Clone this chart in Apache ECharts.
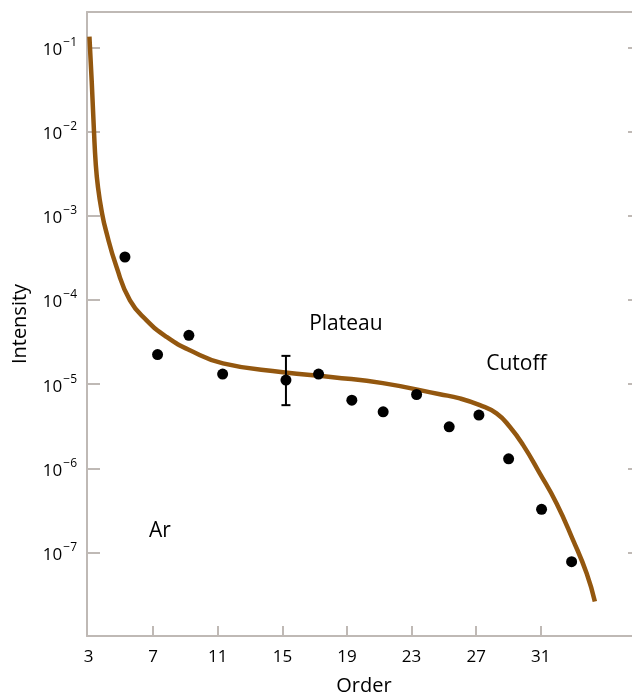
<!DOCTYPE html>
<html>
<head>
<meta charset="utf-8">
<script src="https://cdn.jsdelivr.net/npm/echarts@6/dist/echarts.min.js"></script>
<style>
  html, body { margin: 0; padding: 0; background: #fff; }
  #chart { width: 632px; height: 696px; }
</style>
</head>
<body>
<div id="chart"></div>
<script>
// measured harmonic orders and intensities (dots)
var orders = [5.25, 7.27, 9.21, 11.3, 15.22, 17.24, 19.3, 21.24, 23.31, 25.33, 27.17, 29.01, 31.05, 32.91];
var intensities = [3.24e-4, 2.25e-5, 3.81e-5, 1.32e-5, 1.12e-5, 1.32e-5, 6.46e-6, 4.70e-6, 7.55e-6, 3.12e-6, 4.30e-6, 1.30e-6, 3.27e-7, 7.80e-8];

// error bar on the order-15 point
var errOrder = 15.22;
var errLow = 5.64e-6;
var errHigh = 2.17e-5;

// model curve (brown line)
var curveX = [3.05, 3.19, 3.33, 3.44, 3.58, 3.8, 4.07, 4.73, 5.56, 6.59, 7.83, 9.27, 11.32, 15.03, 18.13, 21.22, 24.75, 25.99, 27.23, 28.26, 29.08, 29.91, 30.94, 31.98, 33.0, 33.84, 34.35];
var curveY = [0.134, 0.0403, 0.0103, 4.18e-3, 2.19e-3, 1.16e-3, 6.70e-4, 2.46e-4, 9.91e-5, 5.74e-5, 3.64e-5, 2.53e-5, 1.77e-5, 1.39e-5, 1.21e-5, 1.03e-5, 7.60e-6, 6.78e-6, 5.64e-6, 4.50e-6, 3.12e-6, 1.89e-6, 8.73e-7, 3.84e-7, 1.41e-7, 5.68e-8, 2.62e-8];

// tick labels
var xTicks = [3, 7, 11, 15, 19, 23, 27, 31];
var xTickMarks = [7, 11, 15, 19, 23, 27, 31];
var yTicks = [-7, -6, -5, -4, -3, -2, -1];

// text annotations
var noteText = ['Plateau', 'Cutoff', 'Ar'];
var noteX = [18.93, 29.49, 7.41];
var noteY = [5.25e-5, 1.76e-5, 1.82e-7];

var axisGray = '#bfb9b5';
var font = 'Open Sans';

function lg(v) { return Math.log10(v); }

var dots = orders.map(function (x, i) { return [x, lg(intensities[i])]; });
var curve = curveX.map(function (x, i) { return [x, lg(curveY[i])]; });
var notes = noteText.map(function (t, i) { return { value: [noteX[i], lg(noteY[i])], name: t }; });

var myChart = echarts.init(document.getElementById('chart'));

var option = {
    animation: false,
    backgroundColor: '#fff',
    grid: { left: 87, right: 0, top: 12, bottom: 60, containLabel: false, outerBoundsMode: 'none' },
    xAxis: [{
        type: 'value',
        min: 2.9,
        max: 36.65,
        name: 'Order',
        nameLocation: 'middle',
        nameGap: 40,
        nameTextStyle: { fontFamily: font, fontSize: 20, color: '#000', padding: [0, 0, 0, 9] },
        splitLine: { show: false },
        axisLine: { lineStyle: { color: axisGray, width: 2 } },
        axisTick: { inside: true, length: 10, customValues: xTickMarks, lineStyle: { color: axisGray, width: 2 } },
        axisLabel: { customValues: xTicks, margin: 13, fontFamily: font, fontSize: 17, color: '#000' }
    }, {
        type: 'value',
        position: 'top',
        min: 2.9,
        max: 36.65,
        splitLine: { show: false },
        axisLine: { show: true, lineStyle: { color: axisGray, width: 2 } },
        axisTick: { show: false },
        axisLabel: { show: false }
    }],
    yAxis: [{
        type: 'value',
        min: -7.99,
        max: -0.58,
        name: 'Intensity',
        nameLocation: 'middle',
        nameGap: 57,
        nameTextStyle: { fontFamily: font, fontSize: 20, color: '#000' },
        splitLine: { show: false },
        axisLine: { show: true, lineStyle: { color: axisGray, width: 2 } },
        axisTick: { inside: true, length: 13, customValues: yTicks, lineStyle: { color: axisGray, width: 2 } },
        axisLabel: {
            customValues: yTicks,
            margin: 10,
            formatter: function (v) {
                return '{b|10}{s|\u2212' + Math.abs(Math.round(v)) + '}';
            },
            rich: {
                b: { fontFamily: font, fontSize: 17, color: '#000', lineHeight: 22, verticalAlign: 'bottom' },
                s: { fontFamily: font, fontSize: 12, color: '#000', lineHeight: 22, verticalAlign: 'top', padding: [0, 0, 6, 1] }
            }
        }
    }, {
        type: 'value',
        position: 'right',
        min: -7.99,
        max: -0.58,
        splitLine: { show: false },
        axisLine: { show: false },
        axisTick: { show: true, inside: true, length: 4, customValues: yTicks, lineStyle: { color: axisGray, width: 2 } },
        axisLabel: { show: false }
    }],
    series: [{
        name: 'curve',
        type: 'line',
        data: curve,
        smooth: 0.5,
        showSymbol: false,
        lineStyle: { color: '#93570f', width: 4.5 },
        z: 2
    }, {
        name: 'error',
        type: 'custom',
        data: [[errOrder, lg(errLow), lg(errHigh)]],
        renderItem: function (params, api) {
            var lo = api.coord([api.value(0), api.value(1)]);
            var hi = api.coord([api.value(0), api.value(2)]);
            var w = 4.5;
            var st = { stroke: '#000', lineWidth: 2 };
            return {
                type: 'group',
                children: [
                    { type: 'line', shape: { x1: lo[0], y1: lo[1], x2: hi[0], y2: hi[1] }, style: st },
                    { type: 'line', shape: { x1: lo[0] - w, y1: lo[1], x2: lo[0] + w, y2: lo[1] }, style: st },
                    { type: 'line', shape: { x1: hi[0] - w, y1: hi[1], x2: hi[0] + w, y2: hi[1] }, style: st }
                ]
            };
        },
        z: 3
    }, {
        name: 'data',
        type: 'scatter',
        data: dots,
        symbol: 'circle',
        symbolSize: 11,
        itemStyle: { color: '#000', opacity: 1 },
        z: 4
    }, {
        name: 'notes',
        type: 'scatter',
        data: notes,
        symbolSize: 0,
        itemStyle: { opacity: 1 },
        label: {
            show: true,
            position: 'inside',
            formatter: '{b}',
            fontFamily: font,
            fontSize: 21,
            color: '#000'
        },
        silent: true
    }]
};

myChart.setOption(option);
</script>
</body>
</html>
